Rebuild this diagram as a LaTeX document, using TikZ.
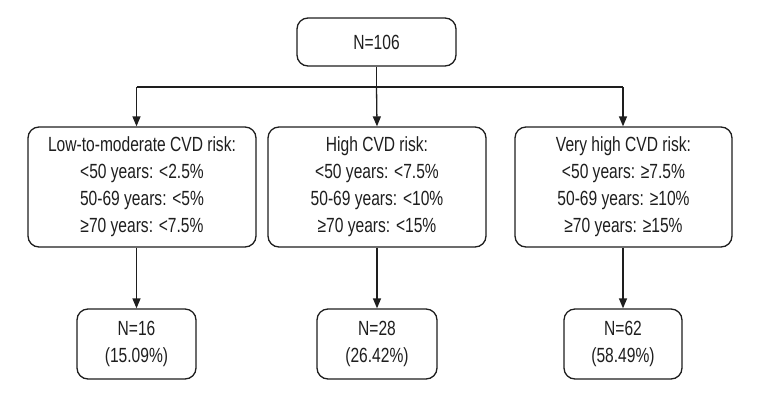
\documentclass[tikz,border=0pt]{standalone}
\usepackage{fontspec}
\setmainfont[FakeStretch=0.76]{Liberation Sans}
\usepackage{tikz}
\usetikzlibrary{arrows.meta,positioning}
\definecolor{ink}{RGB}{30,30,30}
\tikzset{
  box/.style={draw=ink, rounded corners=11pt, line width=1.3pt, fill=white,
              inner sep=2pt, align=center, text=ink, font=\fontsize{20.5}{27}\selectfont},
  flow/.style={-{Triangle[length=10pt,width=8pt]}, ink, line width=1.3pt},
}

\begin{document}
\begin{tikzpicture}[x=1pt,y=-1pt]
        \useasboundingbox (0,0) rectangle (760,400);
        \node[box,minimum width=159pt,minimum height=48pt] (total) at (376.5,42) {N=106};
        \node[box,minimum width=228pt,minimum height=120pt] (riskA) at (142,187) {Low-to-moderate CVD risk:\\<50 years: <2.5\%\\50-69 years: <5\%\\≥70 years: <7.5\%};
        \node[box,minimum width=218pt,minimum height=120pt] (riskB) at (377,187) {High CVD risk:\\<50 years: <7.5\%\\50-69 years: <10\%\\≥70 years: <15\%};
        \node[box,minimum width=217pt,minimum height=120pt] (riskC) at (623.5,187) {Very high CVD risk:\\<50 years: ≥7.5\%\\50-69 years: ≥10\%\\≥70 years: ≥15\%};
        \node[box,minimum width=119pt,minimum height=70pt] (outA) at (136.5,344) {N=16\\(15.09\%)};
        \node[box,minimum width=120pt,minimum height=70pt] (outB) at (377,344) {N=28\\(26.42\%)};
        \node[box,minimum width=118pt,minimum height=70pt] (outC) at (623,344) {N=62\\(58.49\%)};
        \coordinate (split) at (376.5,87);
        \draw[ink,line width=1.3pt] (total.south) -- (split);
        \draw[ink,line width=1.3pt] (split -| outA) -- (split -| outC);
        \draw[flow] (split -| outA) -- (riskA.north -| outA);
        \draw[flow] (split) -- (riskB.north);
        \draw[flow] (split -| outC) -- (riskC.north -| outC);
        \draw[flow] (riskA.south -| outA) -- (outA.north);
        \draw[flow] (riskB.south) -- (outB.north);
        \draw[flow] (riskC.south -| outC) -- (outC.north);
      \end{tikzpicture}
\end{document}
